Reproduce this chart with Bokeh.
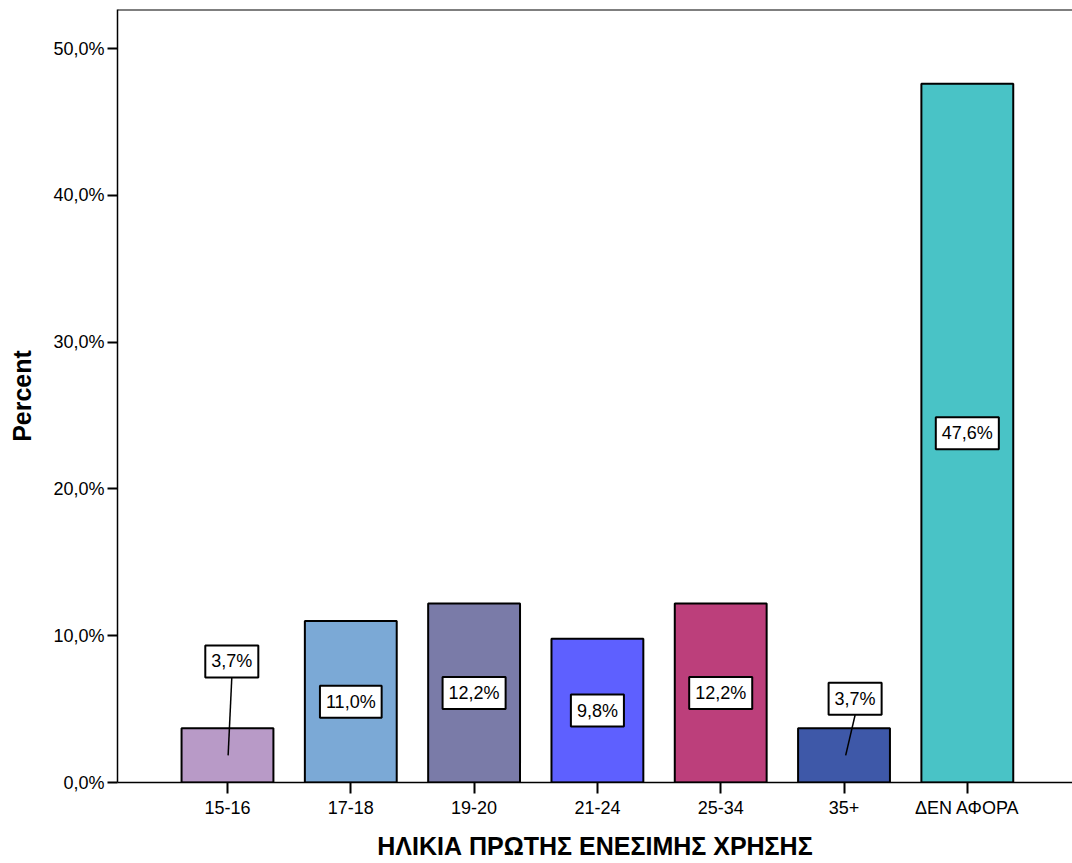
from bokeh.plotting import figure
from bokeh.models import Range1d, FixedTicker, Label, Span
from bokeh.embed import file_html
from bokeh.resources import INLINE

# ---- data ----
categories = ["15-16", "17-18", "19-20", "21-24", "25-34", "35+", "ΔΕΝ ΑΦΟΡΑ"]
percent = [3.7, 11.0, 12.2, 9.8, 12.2, 3.7, 47.6]
bar_colors = ["#B89AC7", "#7BA9D6", "#7A7BA8", "#5E60FF", "#BC3F7B", "#3E58A8", "#49C3C6"]
y_ticks = [0, 10, 20, 30, 40, 50]
y_tick_labels = ["0,0%", "10,0%", "20,0%", "30,0%", "40,0%", "50,0%"]
x_title = "ΗΛΙΚΙΑ ΠΡΩΤΗΣ ΕΝΕΣΙΜΗΣ ΧΡΗΣΗΣ"
y_title = "Percent"

# ---- layout of annotations (placement only) ----
# labels of short bars are placed above the bar with a leader line
label_above_y = [8.25, None, None, None, None, 5.7, None]
label_dx = [0.035, 0, 0, 0, 0, 0.09, 0]

FONT = "Liberation Sans"
idx = list(range(len(categories)))
Y_END = 52.66

p = figure(width=1072, height=863,
           x_range=Range1d(-0.892, 6.853), y_range=Range1d(0, Y_END),
           output_backend="svg", toolbar_location=None,
           min_border_left=117, min_border_right=0, min_border_top=9, min_border_bottom=81)
p.outline_line_color = None
p.xgrid.visible = False
p.ygrid.visible = False
p.background_fill_color = "white"
p.border_fill_color = "white"

p.vbar(x=idx, top=percent, width=0.745, fill_color=bar_colors,
       line_color="black", line_width=2)

# top frame line
p.add_layout(Span(location=Y_END, dimension="width", line_color="black", line_width=2))

# value labels
for i, v in enumerate(percent):
    txt = f"{v:.1f}".replace(".", ",") + "%"
    ly = label_above_y[i]
    lx = i + label_dx[i]
    if ly is None:
        ly = v / 2.0
    else:
        p.segment(x0=[i + label_dx[i] * 0.15], y0=[v / 2.0], x1=[lx], y1=[ly - 1.1],
                  line_color="black", line_width=1.5)
    p.add_layout(Label(x=lx, y=ly, text=txt, text_align="center", text_baseline="middle",
                       text_font=FONT, text_font_size="18px", text_color="black",
                       background_fill_color="white", border_line_color="black",
                       border_line_width=2, padding=6))

# axes
for ax in (p.xaxis[0], p.yaxis[0]):
    ax.axis_line_width = 1.5
    ax.axis_line_color = "black"
    ax.major_tick_line_width = 2
    ax.major_tick_line_color = "black"
    ax.major_tick_in = 0
    ax.minor_tick_line_color = None
    ax.major_label_text_font = FONT
    ax.major_label_text_font_size = "18px"
    ax.major_label_text_color = "black"
    ax.axis_label_text_font = FONT
    ax.axis_label_text_font_style = "bold"
    ax.axis_label_text_font_size = "25px"
    ax.axis_label_text_color = "black"

p.xaxis.ticker = FixedTicker(ticks=idx)
p.xaxis.major_label_overrides = {i: c for i, c in zip(idx, categories)}
p.xaxis.major_tick_out = 11
p.xaxis.major_label_standoff = 4
p.xaxis.axis_label = x_title
p.xaxis.axis_label_standoff = 11

p.yaxis.ticker = FixedTicker(ticks=y_ticks)
p.yaxis.major_label_overrides = {t: l for t, l in zip(y_ticks, y_tick_labels)}
p.yaxis.major_tick_out = 10
p.yaxis.major_label_standoff = 3
p.yaxis.axis_label = y_title
p.yaxis.axis_label_standoff = 14

open("out.html", "w").write(file_html(p, INLINE))
